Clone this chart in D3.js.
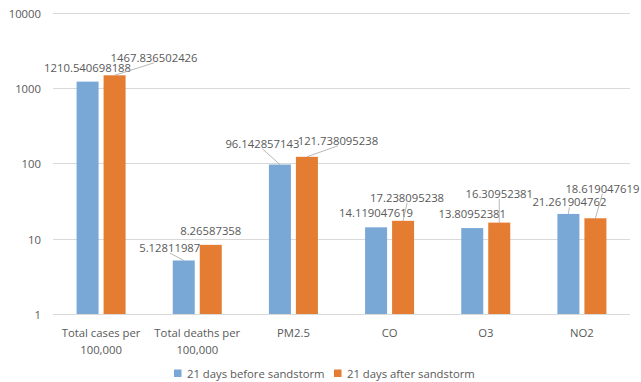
<!DOCTYPE html>
<html>
<head>
<meta charset="utf-8">
<script src="https://cdn.jsdelivr.net/npm/d3@7"></script>
<style>
  html, body { margin: 0; padding: 0; background: #fff; }
  svg { display: block; font-family: "Open Sans", "Liberation Sans", sans-serif; }
</style>
</head>
<body>
<svg id="chart" width="641" height="382"></svg>
<script>
// ---- data ----
const categories = ["Total cases per 100,000", "Total deaths per 100,000", "PM2.5", "CO", "O3", "NO2"];
const seriesNames = ["21 days before sandstorm", "21 days after sandstorm"];
const beforeValues = [1210.540698188, 5.12811987, 96.142857143, 14.119047619, 13.80952381, 21.261904762];
const afterValues = [1467.836502426, 8.26587358, 121.738095238, 17.238095238, 16.30952381, 18.619047619];
const beforeLabels = ["1210.540698188", "5.12811987", "96.142857143", "14.119047619", "13.80952381", "21.261904762"];
const afterLabels = ["1467.836502426", "8.26587358", "121.738095238", "17.238095238", "16.30952381", "18.619047619"];
const yTicks = [1, 10, 100, 1000, 10000];

// ---- layout (label offsets relative to bar top: [dx, dy]) ----
const beforeLabelOffset = [[0, -10], [-14, -8.5], [-17.5, -16.7], [0, -10], [0, -10], [1, -7.5]];
const afterLabelOffset = [[39.5, -13.5], [0, -10], [31, -12], [4, -19], [0, -24.7], [7, -25.5]];

const colors = ["#7AA8D6", "#E47C32"];
const textColor = "#595959";
const gridColor = "#D9D9D9";
const fontSize = 11.3;

const svg = d3.select("#chart");
const mLeft = 53, mRight = 630, mTop = 12.5, mBottom = 314;

const y = d3.scaleLog().domain([1, 10000]).range([mBottom, mTop]);
const x0 = d3.scaleBand().domain(categories).range([mLeft, mRight]).padding(0);
const x1 = d3.scaleBand().domain(seriesNames)
  .range([x0.bandwidth() / 2 - 24.5, x0.bandwidth() / 2 + 24.5])
  .paddingInner(2 - 49 / 27).paddingOuter(0);

// gridlines
svg.append("g").selectAll("line").data(yTicks).join("line")
  .attr("x1", mLeft).attr("x2", mRight)
  .attr("y1", d => Math.round(y(d)) + 0.5).attr("y2", d => Math.round(y(d)) + 0.5)
  .attr("stroke", gridColor).attr("stroke-width", 1);

// y axis labels
const yAxis = d3.axisLeft(y).tickValues(yTicks).tickFormat(d3.format("d")).tickSize(0).tickPadding(0);
const yg = svg.append("g").attr("transform", `translate(41,1)`).call(yAxis);
yg.select(".domain").remove();
yg.selectAll("text").attr("fill", textColor).style("font-size", fontSize + "px")
  .style("font-family", "'Open Sans', 'Liberation Sans', sans-serif");

// x axis labels
const xAxis = d3.axisBottom(x0).tickSize(0).tickPadding(0);
const xg = svg.append("g").attr("transform", `translate(0,${mBottom})`).call(xAxis);
xg.select(".domain").remove();
xg.selectAll("text").attr("fill", textColor).style("font-size", fontSize + "px")
  .style("font-family", "'Open Sans', 'Liberation Sans', sans-serif")
  .attr("dy", null).attr("y", 23)
  .each(function () { wrap(d3.select(this), 92); });

function wrap(text, width) {
  const words = text.text().split(/\s+/);
  text.text(null);
  let line = [], lineNo = 0;
  let tspan = text.append("tspan").attr("x", 0).attr("y", 23);
  for (const w of words) {
    line.push(w);
    tspan.text(line.join(" "));
    if (tspan.node().getComputedTextLength() > width && line.length > 1) {
      line.pop();
      tspan.text(line.join(" "));
      line = [w];
      lineNo++;
      tspan = text.append("tspan").attr("x", 0).attr("y", 23 + lineNo * 17).text(w);
    }
  }
}

// bars
const seriesData = [
  { name: seriesNames[0], values: beforeValues, labels: beforeLabels, offsets: beforeLabelOffset, color: colors[0] },
  { name: seriesNames[1], values: afterValues, labels: afterLabels, offsets: afterLabelOffset, color: colors[1] }
];

const barsG = svg.append("g");
const labelsG = svg.append("g");
seriesData.forEach(s => {
  barsG.selectAll(null).data(categories).join("rect")
    .attr("x", (c) => x0(c) + x1(s.name))
    .attr("width", x1.bandwidth())
    .attr("y", (c, i) => y(s.values[i]))
    .attr("height", (c, i) => mBottom - y(s.values[i]))
    .attr("fill", s.color);

  categories.forEach((c, i) => {
    const cx = x0(c) + x1(s.name) + x1.bandwidth() / 2;
    const ty = y(s.values[i]);
    const [dx, dy] = s.offsets[i];
    const lx = cx + dx, ly = ty + dy;
    if (!(dx === 0 && dy === -10)) {
      labelsG.append("line")
        .attr("x1", cx).attr("y1", ty)
        .attr("x2", lx).attr("y2", ly + 1)
        .attr("stroke", "#A6A6A6").attr("stroke-width", 0.8);
    }
    labelsG.append("text")
      .attr("x", lx).attr("y", ly)
      .attr("text-anchor", "middle")
      .attr("fill", textColor)
      .style("font-size", fontSize + "px")
      .text(s.labels[i]);
  });
});

// legend
const legendItems = [
  { name: seriesNames[0], color: colors[0], x: 174 },
  { name: seriesNames[1], color: colors[1], x: 334 }
];
const lg = svg.append("g");
legendItems.forEach(it => {
  lg.append("rect").attr("x", it.x).attr("y", 369.5).attr("width", 7.5).attr("height", 7.5).attr("fill", it.color);
  lg.append("text").attr("x", it.x + 13).attr("y", 377.5).attr("fill", textColor)
    .style("font-size", fontSize + "px").text(it.name);
});
</script>
</body>
</html>
